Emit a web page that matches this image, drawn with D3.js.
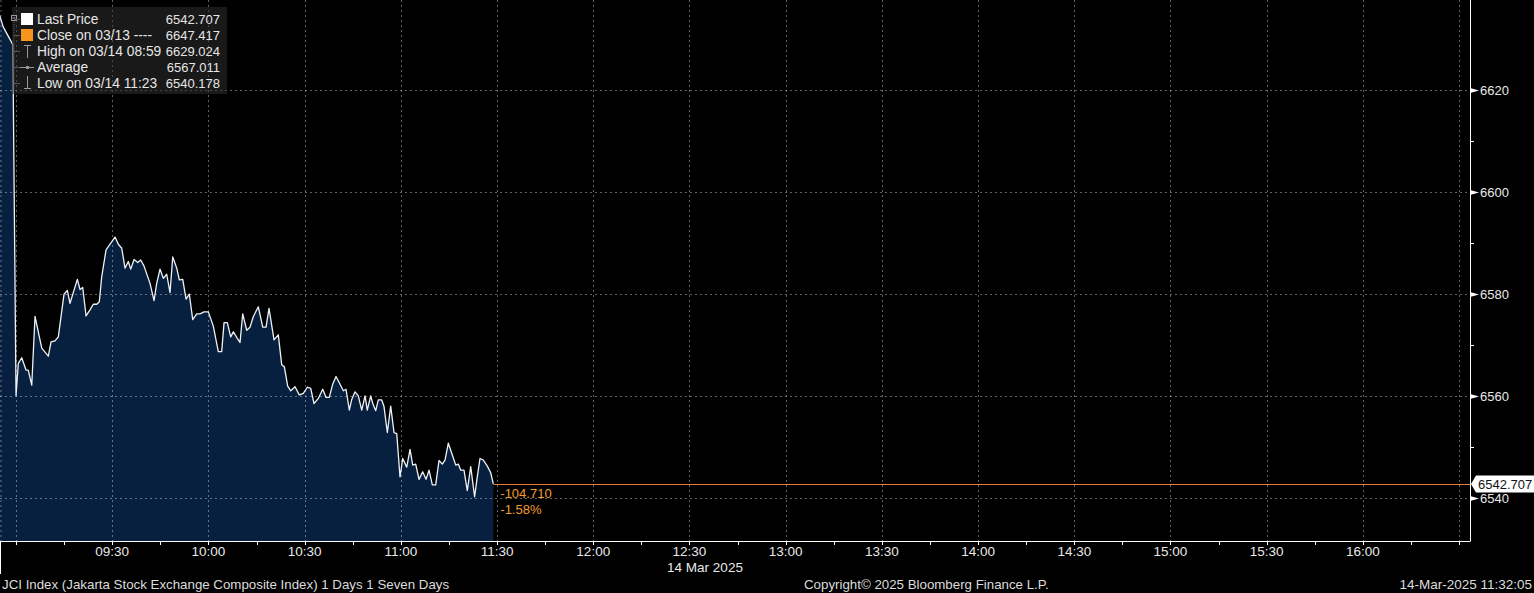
<!DOCTYPE html>
<html>
<head>
<meta charset="utf-8">
<title>JCI Index intraday</title>
<script src="https://d3js.org/d3.v7.min.js"></script>
<style>
  html, body { margin: 0; padding: 0; background: #000; }
  svg { display: block; font-family: "Liberation Sans", Arial, sans-serif; }
</style>
</head>
<body>
<svg id="chart" width="1534" height="593"></svg>
<script>
// intraday prints, 14 Mar 2025
const times = [
  "08:54:00", "08:56:00", "08:59:00",
  "09:00:00", "09:00:43", "09:01:47", "09:03:07", "09:03:50", "09:04:54", "09:05:55", "09:08:01",
  "09:10:04", "09:10:55", "09:12:10", "09:13:11", "09:14:58", "09:16:00", "09:16:50", "09:19:07",
  "09:19:58", "09:20:48", "09:21:50", "09:23:04", "09:24:06", "09:25:10", "09:25:58", "09:26:43",
  "09:28:04", "09:29:19", "09:30:52", "09:31:54", "09:32:58", "09:33:59", "09:35:01", "09:35:46",
  "09:36:48", "09:37:57", "09:38:53", "09:39:55", "09:41:47", "09:43:02", "09:43:52", "09:44:54",
  "09:45:56", "09:46:59", "09:48:01", "09:48:52", "09:50:07", "09:50:55", "09:51:59", "09:53:01",
  "09:54:02", "09:55:06", "09:56:21", "09:57:22", "09:58:37", "09:59:58", "10:01:31", "10:03:05",
  "10:04:08", "10:04:52", "10:05:53", "10:06:57", "10:07:46", "10:09:00", "10:09:51", "10:10:41",
  "10:11:56", "10:12:58", "10:14:00", "10:15:33", "10:16:56", "10:17:58", "10:18:53", "10:20:27",
  "10:21:47", "10:22:51", "10:23:40", "10:24:43", "10:25:40", "10:27:00", "10:28:20", "10:29:35",
  "10:30:50", "10:31:53", "10:32:55", "10:34:16", "10:35:38", "10:36:40", "10:37:41", "10:38:45",
  "10:39:47", "10:41:02", "10:42:04", "10:42:54", "10:43:56", "10:44:41", "10:45:43", "10:46:44",
  "10:47:48", "10:48:50", "10:49:32", "10:50:36", "10:51:14", "10:52:10", "10:52:58", "10:54:02",
  "10:54:45", "10:55:47", "10:56:50", "10:57:52", "10:58:43", "10:59:44", "11:00:35", "11:01:50",
  "11:02:52", "11:03:42", "11:04:38", "11:05:40", "11:06:49", "11:07:51", "11:08:47", "11:09:49",
  "11:10:52", "11:11:54", "11:12:56", "11:13:46", "11:14:48", "11:16:03", "11:17:07", "11:17:55",
  "11:18:40", "11:19:41", "11:20:43", "11:21:47", "11:23:00", "11:23:50", "11:24:41", "11:25:43",
  "11:26:58", "11:28:01", "11:28:50"
];
const prices = [
  6636.5, 6632.5, 6629.024,
  6560.1, 6566.4, 6567.5, 6565.1, 6565.0, 6562.1, 6575.6, 6569.4,
  6567.8, 6570.6, 6570.8, 6571.6, 6580.0, 6580.7, 6578.2, 6582.9,
  6580.9, 6581.3, 6575.7, 6576.9, 6578.0, 6578.0, 6578.5, 6583.4,
  6588.7, 6589.8, 6591.2, 6589.8, 6589.0, 6585.1, 6586.4, 6584.9,
  6586.8, 6586.2, 6586.7, 6585.5, 6582.1, 6578.7, 6582.1, 6584.9,
  6583.1, 6583.9, 6580.3, 6587.3, 6585.1, 6582.8, 6582.9, 6579.0,
  6580.0, 6575.0, 6576.1, 6576.1, 6576.5, 6576.5, 6573.7, 6568.7,
  6568.7, 6574.4, 6574.4, 6571.6, 6572.6, 6571.3, 6570.5, 6576.1,
  6572.9, 6573.5, 6575.6, 6577.5, 6573.5, 6573.5, 6577.2, 6571.0,
  6572.0, 6566.1, 6565.7, 6561.9, 6561.0, 6561.8, 6560.2, 6560.5,
  6561.7, 6561.5, 6558.5, 6559.5, 6561.3, 6559.7, 6559.7, 6562.3,
  6563.8, 6562.3, 6561.0, 6561.3, 6557.2, 6559.3, 6560.8, 6560.0,
  6557.2, 6560.0, 6557.2, 6560.0, 6558.5, 6557.1, 6559.2, 6559.2,
  6557.9, 6552.8, 6558.0, 6552.8, 6552.6, 6544.1, 6547.7, 6546.0,
  6549.5, 6546.4, 6546.6, 6543.6, 6545.1, 6543.6, 6545.4, 6542.5,
  6542.5, 6547.3, 6546.6, 6547.4, 6550.7, 6548.4, 6546.4, 6546.6,
  6545.4, 6545.4, 6541.4, 6546.1, 6540.178, 6544.1, 6547.7, 6547.4,
  6546.2, 6544.9, 6542.707
];

const yTicks = [6540, 6560, 6580, 6600, 6620];
const yMinorTicks = [6550, 6570, 6590, 6610];
const xLabels = ["09:30", "10:00", "10:30", "11:00", "11:30", "12:00", "12:30", "13:00",
                 "13:30", "14:00", "14:30", "15:00", "15:30", "16:00"];
const xGrid = ["09:00", "09:30", "10:00", "10:30", "11:00", "11:30", "12:00", "12:30", "13:00",
               "13:30", "14:00", "14:30", "15:00", "15:30", "16:00", "16:30"];

const legendRows = [
  { label: "Last Price", value: "6542.707", icon: "square", color: "#ffffff" },
  { label: "Close on 03/13 ----", value: "6647.417", icon: "square", color: "#f7941d" },
  { label: "High on 03/14 08:59", value: "6629.024", icon: "high" },
  { label: "Average", value: "6567.011", icon: "avg" },
  { label: "Low on 03/14 11:23", value: "6540.178", icon: "low" }
];

const lastPrice = 6542.707;
const netChange = "-104.710";
const pctChange = "-1.58%";

const W = 1534, H = 593;
const plotW = 1470, plotH = 541;
const textSize = 13.5, numSize = 13;

const parseT = d3.timeParse("%H:%M:%S");
const parseHM = d3.timeParse("%H:%M");
const data = times.map((t, i) => ({ t: parseT(t), v: prices[i] }));

const x = d3.scaleTime()
  .domain([parseT("08:55:00"), parseT("16:33:24")])
  .range([0, plotW]);
const y = d3.scaleLinear()
  .domain([6531.49, 6637.78])
  .range([plotH, 0]);

const svg = d3.select("#chart");
svg.append("rect").attr("width", W).attr("height", H).attr("fill", "#000");

svg.append("clipPath").attr("id", "plotclip")
  .append("rect").attr("width", plotW).attr("height", plotH);

const plot = svg.append("g").attr("clip-path", "url(#plotclip)");

// area under the price
const area = d3.area()
  .x(d => x(d.t))
  .y0(plotH)
  .y1(d => y(d.v));
plot.append("path")
  .datum(data)
  .attr("d", area)
  .attr("fill", "#08203f");

// grid
const gridColor = "rgba(255,255,255,0.38)";
plot.append("line")
  .attr("x1", 1).attr("x2", 1).attr("y1", 0).attr("y2", plotH)
  .attr("stroke", gridColor).attr("stroke-dasharray", "2,3");
plot.selectAll(".vgrid")
  .data(xGrid)
  .join("line")
  .attr("class", "vgrid")
  .attr("x1", d => Math.round(x(parseHM(d))) + 0.5)
  .attr("x2", d => Math.round(x(parseHM(d))) + 0.5)
  .attr("y1", 0).attr("y2", plotH)
  .attr("stroke", gridColor).attr("stroke-dasharray", "2,3");
plot.selectAll(".hgrid")
  .data(yTicks)
  .join("line")
  .attr("class", "hgrid")
  .attr("x1", 0).attr("x2", plotW)
  .attr("y1", d => Math.round(y(d)) + 0.5)
  .attr("y2", d => Math.round(y(d)) + 0.5)
  .attr("stroke", gridColor).attr("stroke-dasharray", "2,3");

// price line
const line = d3.line().x(d => x(d.t)).y(d => y(d.v));
plot.append("path")
  .datum(data)
  .attr("d", line)
  .attr("fill", "none")
  .attr("stroke", "#eef2f7")
  .attr("stroke-width", 1.3)
  .attr("stroke-linejoin", "round");

// last price level
const lastX = x(data[data.length - 1].t);
const lastY = Math.round(y(lastPrice)) + 0.5;
svg.append("line")
  .attr("x1", lastX).attr("x2", plotW)
  .attr("y1", lastY).attr("y2", lastY)
  .attr("stroke", "#ea7b3c").attr("stroke-width", 1);

svg.append("text")
  .attr("x", lastX + 7).attr("y", lastY + 13)
  .attr("fill", "#f39b2f").attr("font-size", numSize)
  .text(netChange);
svg.append("text")
  .attr("x", lastX + 7).attr("y", lastY + 29)
  .attr("fill", "#f39b2f").attr("font-size", numSize)
  .text(pctChange);

// right axis
const axisColor = "#ffffff";
svg.append("line")
  .attr("x1", plotW + 0.5).attr("x2", plotW + 0.5)
  .attr("y1", 0).attr("y2", plotH + 0.5)
  .attr("stroke", axisColor);
const yAxisG = svg.append("g");
yTicks.forEach(v => {
  const ty = Math.round(y(v)) + 0.5;
  yAxisG.append("path")
    .attr("d", `M${plotW},${ty - 2.5}L${plotW + 9},${ty}L${plotW},${ty + 2.5}Z`)
    .attr("fill", axisColor);
  yAxisG.append("text")
    .attr("x", plotW + 10).attr("y", ty)
    .attr("dy", "0.36em")
    .attr("fill", "#e8e8e8").attr("font-size", numSize)
    .text(v);
});
yMinorTicks.forEach(v => {
  const ty = Math.round(y(v)) + 0.5;
  yAxisG.append("line")
    .attr("x1", plotW).attr("x2", plotW + 4)
    .attr("y1", ty).attr("y2", ty)
    .attr("stroke", axisColor);
});

// last price tag
const tagY = y(lastPrice);
svg.append("path")
  .attr("d", `M${plotW + 1},${tagY}L${plotW + 6},${tagY - 8.5}L${W},${tagY - 8.5}L${W},${tagY + 8.5}L${plotW + 6},${tagY + 8.5}Z`)
  .attr("fill", "#ffffff");
svg.append("text")
  .attr("x", plotW + 8).attr("y", tagY)
  .attr("dy", "0.36em")
  .attr("fill", "#111").attr("font-size", numSize)
  .text(d3.format(".3f")(lastPrice));

// bottom axis
svg.append("line")
  .attr("x1", 0).attr("x2", plotW)
  .attr("y1", plotH + 0.5).attr("y2", plotH + 0.5)
  .attr("stroke", axisColor);
svg.append("line")
  .attr("x1", 0.5).attr("x2", 0.5)
  .attr("y1", plotH).attr("y2", 574)
  .attr("stroke", axisColor);
const xTicks = d3.timeMinute.every(15).range(parseHM("09:00"), parseHM("16:31"));
svg.selectAll(".xtick")
  .data(xTicks)
  .join("line")
  .attr("class", "xtick")
  .attr("x1", d => Math.round(x(d)) + 0.5)
  .attr("x2", d => Math.round(x(d)) + 0.5)
  .attr("y1", plotH).attr("y2", plotH + 4)
  .attr("stroke", axisColor);
svg.selectAll(".xlabel")
  .data(xLabels)
  .join("text")
  .attr("class", "xlabel")
  .attr("x", d => x(parseHM(d)))
  .attr("y", 556)
  .attr("text-anchor", "middle")
  .attr("fill", "#e8e8e8").attr("font-size", textSize)
  .text(d => d);
svg.append("text")
  .attr("x", 705).attr("y", 572)
  .attr("text-anchor", "middle")
  .attr("fill", "#e8e8e8").attr("font-size", textSize)
  .text("14 Mar 2025");

// footer
svg.append("text")
  .attr("x", 2).attr("y", 589)
  .attr("fill", "#dcdcdc").attr("font-size", 13.3)
  .text("JCI Index (Jakarta Stock Exchange Composite Index) 1 Days 1 Seven Days");
svg.append("text")
  .attr("x", 804).attr("y", 589)
  .attr("fill", "#dcdcdc").attr("font-size", 13.3)
  .text("Copyright\u00a9 2025 Bloomberg Finance L.P.");
svg.append("text")
  .attr("x", 1532).attr("y", 589)
  .attr("text-anchor", "end")
  .attr("fill", "#dcdcdc").attr("font-size", 13.5)
  .text("14-Mar-2025 11:32:05");

// legend
const lg = svg.append("g");
lg.append("rect")
  .attr("x", 12).attr("y", 7).attr("width", 215).attr("height", 87)
  .attr("fill", "rgba(50,50,50,0.5)");
const iconGray = "#9a9a9a";
lg.append("rect")
  .attr("x", 11.5).attr("y", 15.5).attr("width", 5).attr("height", 5)
  .attr("fill", "none").attr("stroke", iconGray);
lg.append("line")
  .attr("x1", 12.5).attr("x2", 15.5).attr("y1", 18).attr("y2", 18)
  .attr("stroke", iconGray);
lg.append("line")
  .attr("x1", 14).attr("x2", 14).attr("y1", 22).attr("y2", 88)
  .attr("stroke", "#555").attr("stroke-dasharray", "1,1");

legendRows.forEach((r, i) => {
  const cy = 19 + i * 16;
  lg.append("line")
    .attr("x1", 14).attr("x2", 20).attr("y1", cy + 0.5).attr("y2", cy + 0.5)
    .attr("stroke", "#555");
  if (r.icon === "square") {
    lg.append("rect")
      .attr("x", 21).attr("y", cy - 6).attr("width", 12).attr("height", 12)
      .attr("fill", r.color);
  } else if (r.icon === "high") {
    lg.append("path")
      .attr("d", `M24,${cy - 5.5}H31M27.5,${cy - 5.5}V${cy + 7}`)
      .attr("stroke", iconGray).attr("fill", "none");
  } else if (r.icon === "avg") {
    lg.append("line")
      .attr("x1", 20).attr("x2", 34).attr("y1", cy + 0.5).attr("y2", cy + 0.5)
      .attr("stroke", iconGray);
    lg.append("circle")
      .attr("cx", 27.5).attr("cy", cy + 0.5).attr("r", 1.8)
      .attr("fill", iconGray);
  } else if (r.icon === "low") {
    lg.append("path")
      .attr("d", `M27.5,${cy - 7}V${cy + 5.5}M24,${cy + 5.5}H31`)
      .attr("stroke", iconGray).attr("fill", "none");
  }
  lg.append("text")
    .attr("x", 37).attr("y", cy + 4.5)
    .attr("fill", "#e6e6e6").attr("font-size", 13.8)
    .text(r.label);
  lg.append("text")
    .attr("x", 220).attr("y", cy + 4.5)
    .attr("text-anchor", "end")
    .attr("fill", "#e6e6e6").attr("font-size", numSize)
    .text(r.value);
});
</script>
</body>
</html>
